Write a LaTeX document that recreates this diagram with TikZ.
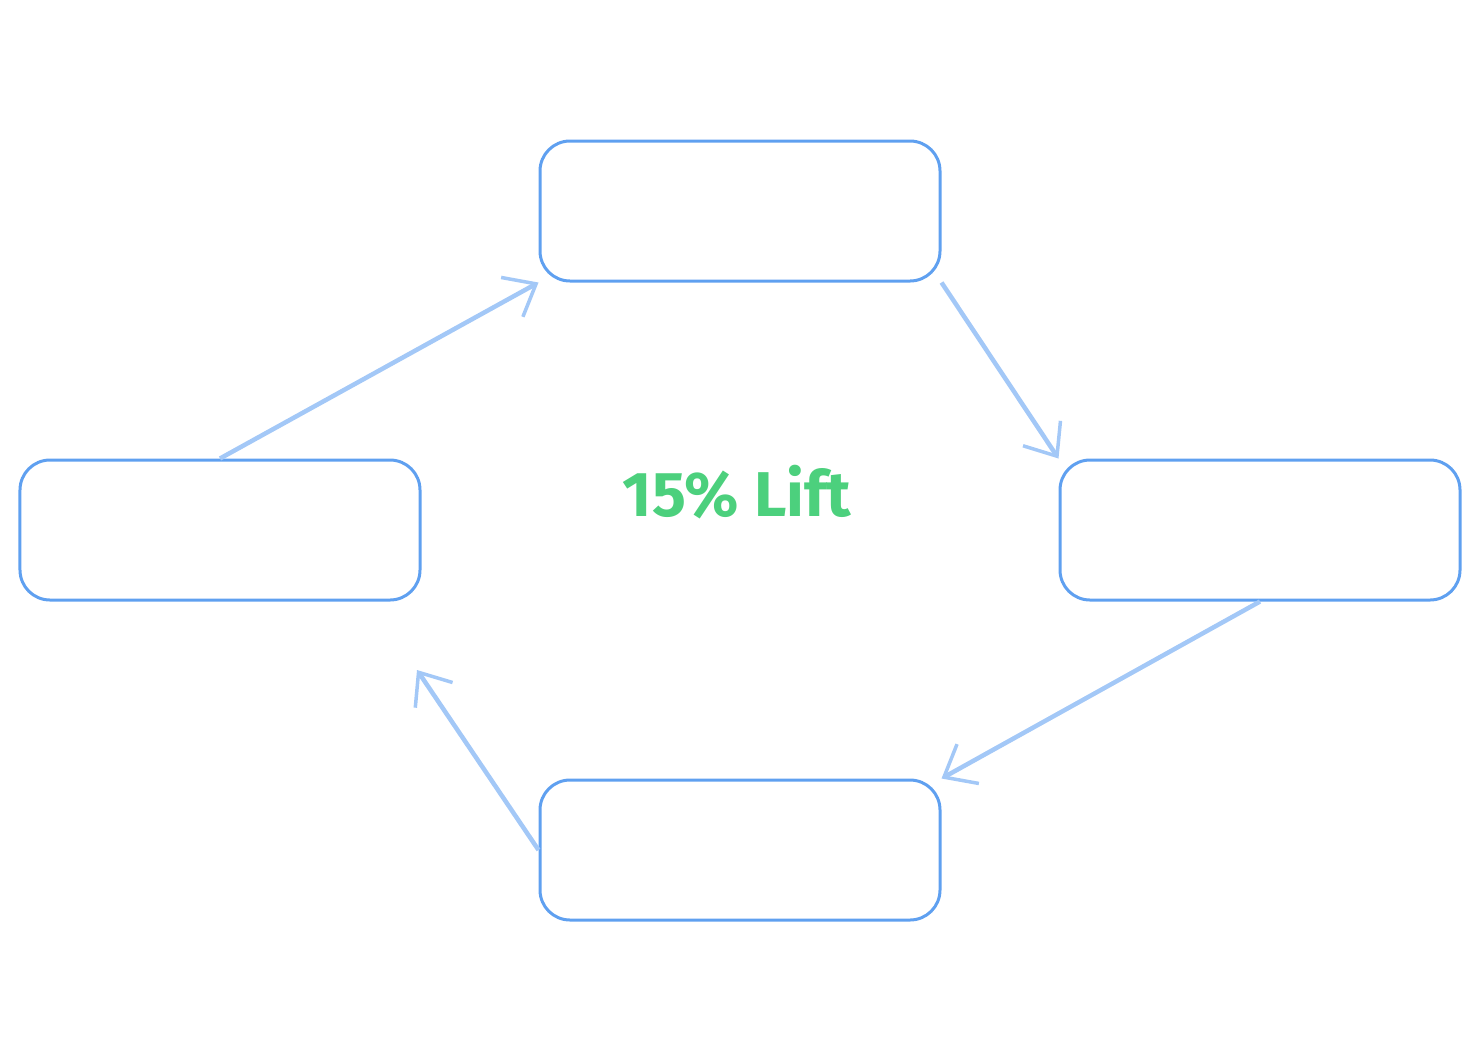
\documentclass[tikz,border=0pt]{standalone}
\usepackage{fontspec}
\setmainfont{Fira Sans}
\usetikzlibrary{arrows.meta, calc, positioning}
\definecolor{boxblue}{HTML}{5FA0F0}
\definecolor{arrowblue}{HTML}{A3C8F7}
\definecolor{liftgreen}{HTML}{4CD07D}
\tikzstyle{stage} = [rectangle, line width=0.6mm, rounded corners=6mm, minimum width=80mm, minimum height=28mm, draw=boxblue]
\tikzstyle{arrow} = [line width=0.9mm, draw=arrowblue, -{Straight Barb[length=5.5mm, width=9mm, line width=0.7mm]}]
\begin{document}
\begin{tikzpicture}[x=0.2mm, y=-0.2mm]
	\useasboundingbox (0,0) rectangle (1480,1040);
		\node (Top) [stage] at (740,211) {};
		\node (Left) [stage] at (220,530) {};
		\node (Right) [stage] at (1260,530) {};
		\node (Bottom) [stage] at (740,850) {};
		\node (Lift) [text=liftgreen, font=\fontsize{36}{40}\selectfont\bfseries] at (737,492) {15\% Lift};

		\coordinate (LeftTip) at (417,670);
		\draw [arrow] (Left.north) -- (Top.south west);
		\draw [arrow] (Top.south east) -- (Right.north west);
		\draw [arrow] (Right.south) -- (Bottom.north east);
		\draw [arrow] (Bottom.west) -- (LeftTip);
	\end{tikzpicture}
\end{document}
